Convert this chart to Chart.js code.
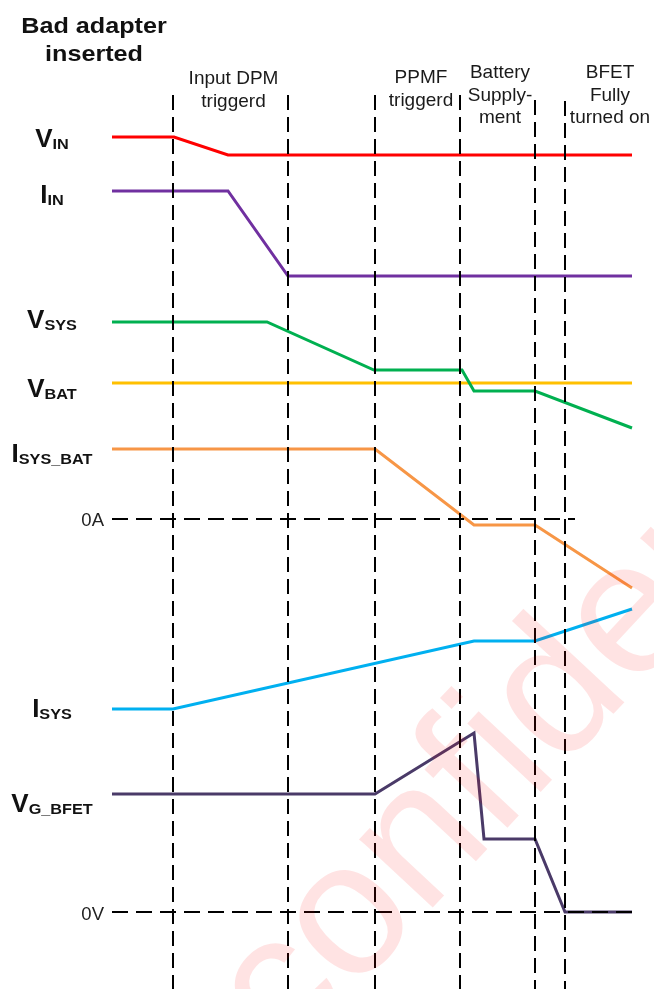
<!DOCTYPE html>
<html>
<head>
<meta charset="utf-8">
<script src="https://cdn.jsdelivr.net/npm/chart.js@4/dist/chart.umd.min.js"></script>
<style>
  html, body { margin: 0; padding: 0; background: #fff; }
  #wrap { width: 654px; height: 989px; position: relative; }
</style>
</head>
<body>
<div id="wrap"><canvas id="timing"></canvas></div>
<script>
// time in arbitrary units, levels in arbitrary units (one shared y axis)
const vinT = [0, 12.4, 23.2, 104];
const vinV = [85.2, 85.2, 83.4, 83.4];
const iinT = [0, 23.2, 35.2, 104];
const iinV = [79.8, 79.8, 71.3, 71.3];
const vsysT = [0, 31, 52.4, 70, 72.4, 84.6, 104];
const vsysV = [66.7, 66.7, 61.9, 61.9, 59.8, 59.8, 56.1];
const vbatT = [0, 104];
const vbatV = [60.6, 60.6];
const isysBatT = [0, 52.6, 72.4, 84.6, 104];
const isysBatV = [54.0, 54.0, 46.4, 46.4, 40.1];
const isysT = [0, 12.2, 72.4, 84.6, 104];
const isysV = [28.0, 28.0, 34.8, 34.8, 38.0];
const vgT = [0, 52.6, 72.4, 74.4, 84.6, 90.6, 104];
const vgV = [19.5, 19.5, 25.6, 15.0, 15.0, 7.7, 7.7];

// zero reference lines
const zeroA = { t: [0, 92.6], v: 47.0, label: "0A" };
const zeroV = { t: [0, 104], v: 7.7, label: "0V" };

// event markers
const eventT = [12.2, 35.2, 52.6, 69.6, 84.6, 90.6];
const eventTop = [89.4, 89.4, 89.4, 89.4, 88.9, 88.8];

// phase captions
const phaseT = [24.3, 61.8, 77.6, 99.6];
const phaseText = [
  ["Input DPM", "triggerd"],
  ["PPMF", "triggerd"],
  ["Battery", "Supply-", "ment"],
  ["BFET", "Fully", "turned on"]
];
const phaseTop = [90.5, 90.6, 91.1, 91.1];

// signal names
const sigMain = ["V", "I", "V", "V", "I", "I", "V"];
const sigSub = ["IN", "IN", "SYS", "BAT", "SYS_BAT", "SYS", "G_BFET"];
const sigBase = [84.2, 78.6, 66.1, 59.2, 52.7, 27.2, 17.7];

const pts = (ts, vs) => ts.map((t, i) => ({ x: t, y: vs[i] }));

const signal = (ts, vs, color) => ({
  data: pts(ts, vs),
  borderColor: color,
  borderWidth: 3,
  order: 2,
  clip: false
});

const dashed = (data) => ({
  data: data,
  borderColor: "#000",
  borderWidth: 2,
  borderDash: [15, 7],
  order: 1,
  clip: false
});

const datasets = [
  signal(vinT, vinV, "#ff0000"),
  signal(iinT, iinV, "#7030a0"),
  signal(vsysT, vsysV, "#00b050"),
  signal(vbatT, vbatV, "#ffc000"),
  signal(isysBatT, isysBatV, "#f79646"),
  signal(isysT, isysV, "#00b0f0"),
  signal(vgT, vgV, "#4a3a68")
];
[zeroA, zeroV].forEach(z => {
  const d = dashed(z.t.map(t => ({ x: t, y: z.v })));
  d.borderDash = [16, 8];
  datasets.push(d);
});
eventT.forEach((t, i) => {
  datasets.push(dashed([{ x: t, y: eventTop[i] }, { x: t, y: 0 }]));
});

const FONT = '"Liberation Sans", Arial, sans-serif';

function stretchedText(ctx, text, x, y, font, sx) {
  ctx.save();
  ctx.font = font;
  ctx.translate(x, y);
  ctx.scale(sx, 1);
  ctx.fillText(text, 0, 0);
  ctx.restore();
}

// text: title, captions, signal names, zero labels
const textPlugin = {
  id: "texts",
  afterDatasetsDraw(chart) {
    const ctx = chart.ctx;
    const xs = chart.scales.x, ys = chart.scales.y;
    ctx.save();
    ctx.fillStyle = "#111";
    ctx.textBaseline = "alphabetic";

    // title
    ctx.textAlign = "left";
    const tf = "bold 22.5px " + FONT;
    ctx.font = tf;
    [["Bad adapter", 95.6], ["inserted", 92.8]].forEach(([s, v]) => {
      const w = ctx.measureText(s).width * 1.12;
      stretchedText(ctx, s, xs.getPixelForValue(-3.6) - w / 2, ys.getPixelForValue(v), tf, 1.12);
    });

    // phase captions
    ctx.textAlign = "center";
    ctx.font = "19px " + FONT;
    ctx.fillStyle = "#1a1a1a";
    phaseText.forEach((lines, i) => {
      const x = xs.getPixelForValue(phaseT[i]);
      const y0 = ys.getPixelForValue(phaseTop[i]);
      lines.forEach((s, j) => ctx.fillText(s, x, y0 + j * 22.7));
    });

    // zero labels
    ctx.textAlign = "right";
    ctx.font = "18.5px " + FONT;
    ctx.fillStyle = "#222";
    ctx.fillText(zeroA.label, xs.getPixelForValue(-1.6), ys.getPixelForValue(46.3));
    ctx.fillText(zeroV.label, xs.getPixelForValue(-1.6), ys.getPixelForValue(6.9));

    // signal names with subscripts
    ctx.textAlign = "left";
    ctx.fillStyle = "#111";
    const mf = "bold 26px " + FONT, sf = "bold 14.5px " + FONT;
    const cx = xs.getPixelForValue(-12);
    sigMain.forEach((m, i) => {
      ctx.font = mf;
      const wm = ctx.measureText(m).width;
      ctx.font = sf;
      const ws = ctx.measureText(sigSub[i]).width * 1.12;
      const x0 = cx - (wm + ws) / 2;
      const y = ys.getPixelForValue(sigBase[i]);
      ctx.font = mf;
      ctx.fillText(m, x0, y);
      stretchedText(ctx, sigSub[i], x0 + wm, y + 2, sf, 1.12);
    });
    ctx.restore();
  },
  afterDraw(chart) {
    // watermark
    const ctx = chart.ctx;
    const xs = chart.scales.x, ys = chart.scales.y;
    ctx.save();
    ctx.translate(xs.getPixelForValue(35), ys.getPixelForValue(-7.5));
    ctx.rotate(-47 * Math.PI / 180);
    ctx.font = "190px " + FONT;
    ctx.fillStyle = "rgba(255, 0, 0, 0.11)";
    ctx.textAlign = "left";
    ctx.textBaseline = "alphabetic";
    ctx.fillText("confidential", 0, 0);
    ctx.restore();
  }
};

new Chart(document.getElementById("timing"), {
  type: "line",
  data: { datasets },
  options: {
    responsive: true,
    maintainAspectRatio: false,
    animation: false,
    layout: { padding: 0 },
    elements: { point: { radius: 0 }, line: { tension: 0 } },
    plugins: { legend: { display: false }, tooltip: { enabled: false } },
    scales: {
      x: { type: "linear", display: false, min: -22.4, max: 108.4 },
      y: { type: "linear", display: false, min: 0, max: 98.9 }
    }
  },
  plugins: [textPlugin]
});
</script>
</body>
</html>
